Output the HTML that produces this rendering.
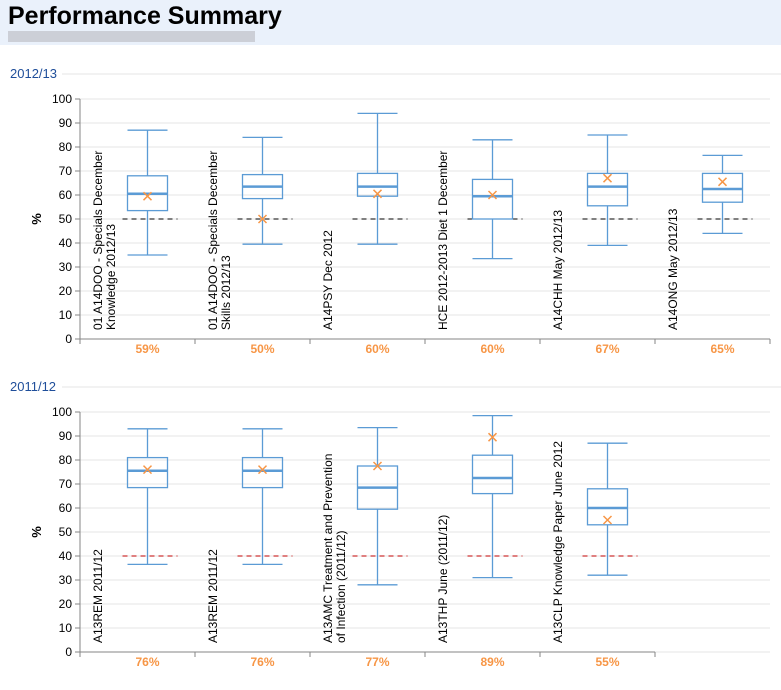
<!DOCTYPE html>
<html><head><meta charset="utf-8"><style>
body{margin:0;background:#fff;font-family:"Liberation Sans",sans-serif;}
svg text{font-family:"Liberation Sans",sans-serif;}
</style></head><body>
<svg id="s" width="781" height="685" xmlns="http://www.w3.org/2000/svg">
<rect x="0" y="0" width="781" height="45" fill="#eaf1fb"/>
<text x="8" y="24" font-size="25" font-weight="bold" fill="#000">Performance Summary</text>
<rect x="8" y="31" width="247" height="11" fill="#c4c7ce" opacity="0.8"/>
<g id="c1"></g><g id="c2"></g>
</svg>
<script>
const top_cats=["01 A14DOO - Specials December|Knowledge 2012/13","01 A14DOO - Specials December|Skills 2012/13","A14PSY Dec 2012","HCE 2012-2013 Diet 1 December","A14CHH May 2012/13","A14ONG May 2012/13"];
const top_max=[87,84,94,83,85,76.5];
const top_q3=[68,68.5,69,66.5,69,69];
const top_med=[60.5,63.5,63.5,59.5,63.5,62.5];
const top_q1=[53.5,58.5,59.5,50,55.5,57];
const top_min=[35,39.5,39.5,33.5,39,44];
const top_mean=[59.5,50,60.5,60,67,65.5];
const top_pct=["59%","50%","60%","60%","67%","65%"];
const top_thr=[50,50,50,50,50,50];
const bot_cats=["A13REM 2011/12","A13REM 2011/12","A13AMC Treatment and Prevention|of Infection (2011/12)","A13THP June (2011/12)","A13CLP Knowledge Paper June 2012"];
const bot_max=[93,93,93.5,98.5,87];
const bot_q3=[81,81,77.5,82,68];
const bot_med=[75.5,75.5,68.5,72.5,60];
const bot_q1=[68.5,68.5,59.5,66,53];
const bot_min=[36.5,36.5,28,31,32];
const bot_mean=[76,76,77.5,89.5,55];
const bot_pct=["76%","76%","77%","89%","55%"];
const bot_thr=[40,40,40,40,40];
const yticks=[0,10,20,30,40,50,60,70,80,90,100];
const NS="http://www.w3.org/2000/svg";
function mk(p,t,a){const e=document.createElementNS(NS,t);for(const k in a)e.setAttribute(k,a[k]);p.appendChild(e);return e;}
function chart(g,title,titleY,y0,cats,mx,q3,md,q1,mn,mean,pct,thr,thrCol){
  const X0=80,W=115,H=240;const y=v=>y0+H-v*H/100;const xc=i=>X0+W*i+W/2+10;
  let t=mk(g,"text",{x:10,y:titleY+4,"font-size":13,fill:"#1f4e9a"});t.textContent=title;
  
  
  let sl=mk(g,"line",{x1:62,x2:781,y1:titleY,y2:titleY,stroke:"#e4e4e4"});
  
  
  const xEnd=X0+W*cats.length;
  yticks.forEach(v=>{
    let gl=mk(g,"line",{x1:X0,x2:770,y1:y(v),y2:y(v),stroke:"#e6e6e6"});
    
    
    mk(g,"line",{x1:X0-5,x2:X0,y1:y(v),y2:y(v),stroke:"#868686"});
    let tl=mk(g,"text",{x:X0-8,y:y(v)+4,"font-size":12,"text-anchor":"end",fill:"#000"});tl.textContent=v;
    
    
  });
  let ax=mk(g,"line",{x1:X0,x2:X0,y1:y0,y2:y0+H,stroke:"#868686"});
  
  
  let xa=mk(g,"line",{x1:X0,x2:xEnd,y1:y0+H,y2:y0+H,stroke:"#868686"});
  
  
  for(let i=0;i<=cats.length;i++)mk(g,"line",{x1:X0+W*i,x2:X0+W*i,y1:y0+H,y2:y0+H+5,stroke:"#868686"});
  let yt=mk(g,"text",{x:0,y:0,"font-size":13,"font-weight":"bold",transform:`translate(41,${y0+H/2}) rotate(-90)`,"text-anchor":"middle"});yt.textContent="%";
  
  
  cats.forEach((c,i)=>{
    const cx=xc(i),bw=40,st="#5b9bd5";
    const lines=c.split("|");
    lines.forEach((ln,j)=>{
      let lt=mk(g,"text",{x:0,y:0,"font-size":12,fill:"#000",transform:`translate(${X0+W*i+22+j*13},${y0+H-9}) rotate(-90)`});lt.textContent=ln;
      
      
    });
    let th=mk(g,"line",{x1:cx-25,x2:cx+30,y1:y(thr[i]),y2:y(thr[i]),stroke:thrCol,"stroke-dasharray":"5,4"});
    
    
    const b=mk(g,"g",{});
    
    
    mk(b,"line",{x1:cx,x2:cx,y1:y(mx[i]),y2:y(q3[i]),stroke:st,"stroke-width":1.3});
    mk(b,"line",{x1:cx,x2:cx,y1:y(q1[i]),y2:y(mn[i]),stroke:st,"stroke-width":1.3});
    mk(b,"line",{x1:cx-20,x2:cx+20,y1:y(mx[i]),y2:y(mx[i]),stroke:st,"stroke-width":1.3});
    mk(b,"line",{x1:cx-20,x2:cx+20,y1:y(mn[i]),y2:y(mn[i]),stroke:st,"stroke-width":1.3});
    mk(b,"rect",{x:cx-bw/2,y:y(q3[i]),width:bw,height:y(q1[i])-y(q3[i]),fill:"none",stroke:st,"stroke-width":1.3});
    mk(b,"line",{x1:cx-bw/2,x2:cx+bw/2,y1:y(md[i]),y2:y(md[i]),stroke:st,"stroke-width":2.5});
    const m=y(mean[i]);
    mk(b,"path",{d:`M${cx-4},${m-4}L${cx+4},${m+4}M${cx-4},${m+4}L${cx+4},${m-4}`,stroke:"#f79646","stroke-width":1.5});
    let pt=mk(g,"text",{x:X0+W*i+W/2+10,y:y0+H+14,"font-size":12,"font-weight":"bold",fill:"#f79646","text-anchor":"middle"});pt.textContent=pct[i];
    
    
  });
}
chart(document.getElementById("c1"),"2012/13",74,99,top_cats,top_max,top_q3,top_med,top_q1,top_min,top_mean,top_pct,top_thr,"#000");
chart(document.getElementById("c2"),"2011/12",387,412,bot_cats,bot_max,bot_q3,bot_med,bot_q1,bot_min,bot_mean,bot_pct,bot_thr,"#c00000");
</script>
</body></html>
